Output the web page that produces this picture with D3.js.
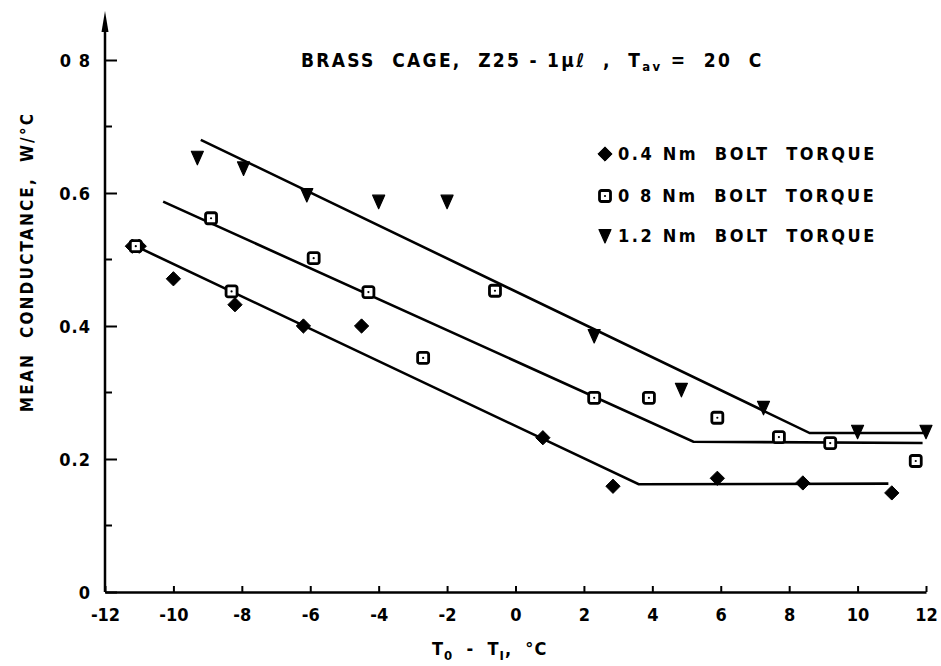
<!DOCTYPE html>
<html>
<head>
<meta charset="utf-8">
<script src="https://cdn.jsdelivr.net/npm/d3@7"></script>
<style>
  body { margin: 0; background: #fff; }
  svg { display: block; }
  text { font-family: 'DejaVu Sans Condensed', 'DejaVu Sans', sans-serif; font-weight: bold; fill: #000; }
</style>
</head>
<body>
<svg id="chart"></svg>
<script>
// temperature difference T0 - T1 (deg C) and mean conductance (W/deg C)
const diamond04 = [
  [-11.2, 0.52], [-11.0, 0.52], [-10.0, 0.471], [-8.2, 0.432], [-6.2, 0.40],
  [-4.5, 0.40], [0.8, 0.232], [2.85, 0.159], [5.9, 0.171], [8.4, 0.164], [11.0, 0.149]
]
const square08 = [
  [-11.1, 0.52], [-8.9, 0.562], [-8.3, 0.452], [-5.9, 0.502], [-4.3, 0.451],
  [-2.7, 0.352], [-0.6, 0.453], [2.3, 0.292], [3.9, 0.292], [5.9, 0.262],
  [7.7, 0.233], [9.2, 0.224], [11.7, 0.197]
]
const triangle12 = [
  [-9.3, 0.653], [-7.95, 0.637], [-6.1, 0.597], [-4.0, 0.587], [-2.0, 0.587],
  [2.3, 0.385], [4.85, 0.304], [7.25, 0.277], [10.0, 0.241], [12.0, 0.241]
]
// fitted lines (break points)
const fit04 = [[-11.1, 0.52], [3.6, 0.162], [10.9, 0.163]]
const fit08 = [[-10.3, 0.587], [5.2, 0.226], [11.9, 0.224]]
const fit12 = [[-9.2, 0.68], [8.6, 0.239], [12.0, 0.239]]

const xTicks = [-12, -10, -8, -6, -4, -2, 0, 2, 4, 6, 8, 10, 12]
const yTicks = [0, 0.2, 0.4, 0.6, 0.8]
const yTickLabels = ['0', '0.2', '0.4', '0.6', '0 8']
const yMinorTicks = [0.1, 0.3, 0.5, 0.7]
const legendLabels = ['0.4 Nm  BOLT  TORQUE', '0 8 Nm  BOLT  TORQUE', '1.2 Nm  BOLT  TORQUE']

const width = 941
const height = 666

const svg = d3.select('#chart')
  .attr('width', width)
  .attr('height', height)

const x = d3.scaleLinear().domain([-12, 12]).range([105, 926])
const y = d3.scaleLinear().domain([0, 0.8]).range([592, 60])

// x axis, ticks pointing inward
const xAxis = d3.axisBottom(x)
  .tickValues(xTicks)
  .tickSizeInner(-6)
  .tickSizeOuter(0)
  .tickPadding(0)
  .tickFormat((d) => d < 0 ? '-' + Math.abs(d) : String(d))
const gx = svg.append('g')
  .attr('transform', 'translate(0,' + y(0) + ')')
  .call(xAxis)
gx.select('path.domain').attr('stroke', '#000').attr('stroke-width', 2.5)
gx.selectAll('g.tick line').attr('stroke', '#000').attr('stroke-width', 2)
gx.selectAll('g.tick text')
  .attr('y', 29)
  .attr('dy', 0)
  .attr('font-size', 18)
  .attr('fill', '#000')

// y axis, ticks pointing inward
const yAxis = d3.axisLeft(y)
  .tickValues(yTicks)
  .tickSizeInner(-12)
  .tickSizeOuter(0)
  .tickPadding(14)
  .tickFormat((d, i) => yTickLabels[i])
const gy = svg.append('g')
  .attr('transform', 'translate(' + x(-12) + ',0)')
  .call(yAxis)
gy.select('path.domain').remove()
gy.selectAll('g.tick line').attr('stroke', '#000').attr('stroke-width', 2)
gy.selectAll('g.tick text')
  .attr('font-size', 18)
  .attr('letter-spacing', 1)
  .attr('dy', '0.36em')
  .attr('fill', '#000')
gy.selectAll('line.minor')
  .data(yMinorTicks)
  .enter()
  .append('line')
  .classed('minor', true)
  .attr('x1', 0)
  .attr('x2', 7)
  .attr('y1', (d) => y(d))
  .attr('y2', (d) => y(d))
  .attr('stroke', '#000')
  .attr('stroke-width', 2)

// vertical axis line with arrow on top
svg.append('line')
  .attr('x1', x(-12)).attr('x2', x(-12))
  .attr('y1', y(0)).attr('y2', 26)
  .attr('stroke', '#000')
  .attr('stroke-width', 2.5)
svg.append('path')
  .attr('d', 'M' + (x(-12) - 3.5) + ',32 L' + x(-12) + ',11 L' + (x(-12) + 3.5) + ',32 Z')
  .attr('fill', '#000')

// fitted lines
const line = d3.line().x((d) => x(d[0])).y((d) => y(d[1]))
svg.append('g')
  .selectAll('path')
  .data([fit04, fit08, fit12])
  .enter()
  .append('path')
  .attr('d', line)
  .attr('fill', 'none')
  .attr('stroke', '#000')
  .attr('stroke-width', 2.6)

// markers
const drawDiamond = (g) => {
  g.append('path')
    .attr('d', d3.symbol(d3.symbolDiamond2, 130)())
    .attr('fill', '#000')
    .attr('stroke', '#000')
    .attr('stroke-width', 1)
    .attr('stroke-linejoin', 'round')
}
const drawSquare = (g) => {
  g.append('rect')
    .attr('x', -5.5).attr('y', -5.5)
    .attr('width', 11).attr('height', 11)
    .attr('rx', 2)
    .attr('fill', '#fff')
    .attr('stroke', '#000')
    .attr('stroke-width', 2.8)
  g.append('circle').attr('r', 1.1).attr('fill', '#000')
}
const drawTriangle = (g) => {
  g.append('path')
    .attr('d', 'M-6,-6.5 L6,-6.5 L0,7 Z')
    .attr('fill', '#000')
    .attr('stroke', '#000')
    .attr('stroke-width', 1.2)
    .attr('stroke-linejoin', 'round')
}

const series = [
  { data: diamond04, draw: drawDiamond },
  { data: square08, draw: drawSquare },
  { data: triangle12, draw: drawTriangle }
]
series.forEach((s) => {
  svg.append('g')
    .selectAll('g')
    .data(s.data)
    .enter()
    .append('g')
    .attr('transform', (d) => 'translate(' + x(d[0]) + ',' + y(d[1]) + ')')
    .each(function () { s.draw(d3.select(this)) })
})

// legend
const legend = svg.append('g')
  .selectAll('g')
  .data(series)
  .enter()
  .append('g')
  .attr('transform', (d, i) => 'translate(605,' + [154, 196, 236][i] + ')')
legend.each(function (d) { d.draw(d3.select(this)) })
legend.append('text')
  .attr('x', 13)
  .attr('dy', '0.36em')
  .attr('font-size', 18)
  .attr('letter-spacing', 2.6)
  .style('white-space', 'pre')
  .text((d, i) => legendLabels[i])

// title
const title = svg.append('text')
  .attr('x', 301)
  .attr('y', 67)
  .attr('font-size', 19)
  .attr('letter-spacing', 2.3)
  .style('white-space', 'pre')
title.append('tspan').text('BRASS  CAGE,  Z25 - 1\u03bc\u2113  ,  T')
title.append('tspan').attr('font-size', 13).attr('dy', 4).text('av')
title.append('tspan').attr('dy', -4).text(' =  20  C')

// axis labels
const xLabel = svg.append('text')
  .attr('x', 432)
  .attr('y', 655)
  .attr('font-size', 18)
  .attr('letter-spacing', 1)
  .style('white-space', 'pre')
xLabel.append('tspan').text('T')
xLabel.append('tspan').attr('font-size', 13).attr('dy', 5).text('0')
xLabel.append('tspan').attr('dy', -5).text('  -  T')
xLabel.append('tspan').attr('font-size', 13).attr('dy', 5).text('I')
xLabel.append('tspan').attr('dy', -5).text(',  \u00b0C')

svg.append('text')
  .attr('transform', 'translate(33,262) rotate(-90)')
  .attr('text-anchor', 'middle')
  .attr('font-size', 17)
  .attr('letter-spacing', 2.2)
  .style('white-space', 'pre')
  .text('MEAN  CONDUCTANCE,  W/\u00b0C')
</script>
</body>
</html>
